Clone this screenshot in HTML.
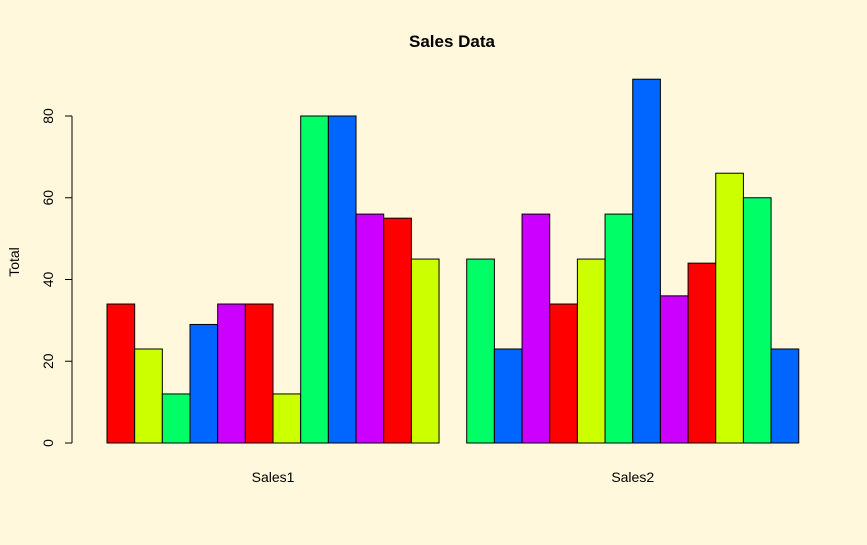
<!DOCTYPE html>
<html><head><meta charset="utf-8"><style>
html,body{margin:0;padding:0;background:#FFF8DC;}
svg{display:block;font-family:"Liberation Sans",Arial,sans-serif;}
</style></head><body>
<svg id="chart" width="867" height="545">
<rect width="867" height="545" fill="#FFF8DC"/>
<text x="452" y="47" text-anchor="middle" font-size="17" font-weight="bold">Sales Data</text>
<text transform="translate(19,262) rotate(-90)" text-anchor="middle" font-size="14">Total</text>
<g id="bars"></g>
<g id="yaxis"></g>
<g id="xlabels"></g>
</svg>
<script>
const groups = ["Sales1","Sales2"];
const sales1 = [34,23,12,29,34,34,12,80,80,56,55,45];
const sales2 = [45,23,56,34,45,56,89,36,44,66,60,23];
const yTicks = [0,20,40,60,80];
const palette = ["#FF0000","#CCFF00","#00FF66","#0066FF","#CC00FF"];
const NS="http://www.w3.org/2000/svg";
const y0=443, pxPerUnit=327/80;
function yScale(v){return y0 - v*pxPerUnit;}
const barW=27.67, xOrigin=107-barW;
function xScale(u){return xOrigin + u*barW;}
const series=[sales1,sales2];
const barsG=document.getElementById('bars');
let colorIdx=0;
series.forEach((vals,g)=>{
  const start = 1 + g*13;
  vals.forEach((v,i)=>{
    const r=document.createElementNS(NS,'rect');
    const x=xScale(start+i);
    r.setAttribute('x',x);
    r.setAttribute('y',yScale(v));
    r.setAttribute('width',barW);
    r.setAttribute('height',y0-yScale(v));
    r.setAttribute('fill',palette[colorIdx%5]);
    r.setAttribute('stroke','#000');
    r.setAttribute('stroke-width','1');
    
    
    colorIdx++;
    barsG.appendChild(r);
  });
  const t=document.createElementNS(NS,'text');
  t.setAttribute('x',xScale(start+6));
  t.setAttribute('y',482);
  t.setAttribute('text-anchor','middle');
  t.setAttribute('font-size','14');
  t.textContent=groups[g];
  
  
  document.getElementById('xlabels').appendChild(t);
});
const ya=document.getElementById('yaxis');
const ax=document.createElementNS(NS,'line');
ax.setAttribute('x1',72);ax.setAttribute('x2',72);
ax.setAttribute('y1',yScale(yTicks[0]));ax.setAttribute('y2',yScale(yTicks[yTicks.length-1]));
ax.setAttribute('stroke','#000');


ya.appendChild(ax);
yTicks.forEach(v=>{
  const l=document.createElementNS(NS,'line');
  l.setAttribute('x1',65);l.setAttribute('x2',72);
  l.setAttribute('y1',yScale(v));l.setAttribute('y2',yScale(v));
  l.setAttribute('stroke','#000');
  
  
  ya.appendChild(l);
  const t=document.createElementNS(NS,'text');
  t.setAttribute('transform','translate(53,'+yScale(v)+') rotate(-90)');
  t.setAttribute('text-anchor','middle');
  t.setAttribute('font-size','14');
  t.textContent=v;
  
  
  ya.appendChild(t);
});
</script>
</body></html>
